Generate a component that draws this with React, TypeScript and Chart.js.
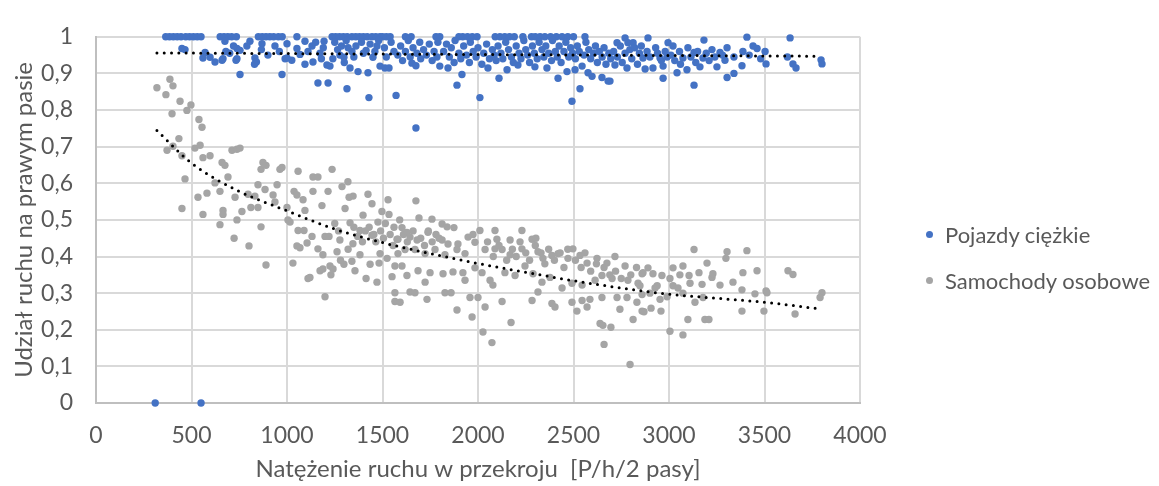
import { useEffect, useRef } from "react";
import { Chart, registerables } from "chart.js";

Chart.register(...registerables);

const xTicks = [0, 500, 1000, 1500, 2000, 2500, 3000, 3500, 4000];
const yTicks = [0, 0.1, 0.2, 0.3, 0.4, 0.5, 0.6, 0.7, 0.8, 0.9, 1];

const heavyLabel = "Pojazdy ciężkie";
const carsLabel = "Samochody osobowe";
const xTitle = "Natężenie ruchu w przekroju  [P/h/2 pasy]";
const yTitle = "Udział ruchu na prawym pasie";

// Pojazdy ciężkie [x, y]
const heavy: [number, number][] = [
  [310, 0], [550, 0],
  [754, 0.897], [974, 0.897], [1162, 0.874], [1215, 0.874], [1314, 0.858], [1429, 0.834],
  [1571, 0.84], [1675, 0.751], [1890, 0.868], [2010, 0.834], [1916, 0.897], [2110, 0.887],
  [2419, 0.887], [2492, 0.824], [2534, 0.858], [2969, 0.887], [3131, 0.868], [3304, 0.889],
  [3340, 0.9], [2691, 0.879], [2681, 0.879], [2649, 0.889],
  [365, 1], [385, 1], [405, 1], [425, 1], [445, 1], [470, 1], [490, 1], [510, 1], [530, 1], [550, 1],
  [650, 1], [670, 1], [690, 1], [710, 1], [735, 1],
  [850, 1], [870, 1], [890, 1], [910, 1], [930, 1], [955, 1], [975, 1], [1052, 1],
  [1236, 1], [1255, 1], [1275, 1], [1295, 1], [1315, 1], [1340, 1], [1360, 1], [1380, 1], [1400, 1],
  [1420, 1], [1445, 1], [1465, 1], [1487, 1], [1500, 1], [1520, 1], [1540, 1], [1620, 1], [1650, 1],
  [1780, 1], [1800, 1], [1900, 1], [1920, 1], [1945, 1], [1970, 1], [1995, 1],
  [2090, 1], [2115, 1], [2140, 1], [2165, 1], [2190, 1], [2235, 1], [2280, 1],
  [2300, 1], [2325, 1], [2350, 1], [2380, 1], [2410, 1], [2440, 1], [2470, 1], [2500, 1], [2560, 1],
  [2770, 0.997], [2890, 0.997], [3183, 0.991], [3408, 0.999], [3634, 0.997],
  [675, 0.988], [806, 0.988], [1094, 0.988], [1194, 0.988], [2728, 0.984], [2785, 0.984], [2812, 0.984], [2995, 0.984],
  [450, 0.968], [466, 0.965], [571, 0.957], [560, 0.942], [597, 0.944], [623, 0.931],
  [660, 0.936], [665, 0.94], [738, 0.968], [754, 0.963], [738, 0.94], [733, 0.936], [790, 0.975], [700, 0.955], [720, 0.975], [680, 0.96],
  [832, 0.942], [840, 0.931], [830, 0.925], [869, 0.981], [866, 0.965], [937, 0.975], [900, 0.95], [960, 0.96], [990, 0.94],
  [1000, 0.981], [1000, 0.942], [1025, 0.936], [1052, 0.968], [1068, 0.952], [1094, 0.925], [1131, 0.975], [1136, 0.931],
  [1173, 0.955], [1110, 0.96], [1150, 0.985], [1180, 0.94], [1190, 0.97],
  [1209, 0.923], [1225, 0.92], [1277, 0.95], [1298, 0.944], [1330, 0.915], [1372, 0.905], [1424, 0.902], [1361, 0.975],
  [1340, 0.96], [1414, 0.963], [1450, 0.944], [1471, 0.975], [1487, 0.92], [1250, 0.985], [1265, 0.965], [1285, 0.975],
  [1310, 0.99], [1320, 0.97], [1350, 0.945], [1390, 0.985], [1400, 0.955], [1435, 0.98], [1460, 0.96], [1480, 0.99],
  [1240, 0.94], [1300, 0.93],
  [1513, 0.915], [1534, 0.915], [1654, 0.928], [1675, 0.921], [1510, 0.97], [1520, 0.945], [1545, 0.985], [1560, 0.96],
  [1580, 0.95], [1595, 0.975], [1605, 0.935], [1620, 0.96], [1635, 0.99], [1645, 0.945], [1660, 0.97], [1680, 0.955],
  [1695, 0.985], [1700, 0.94], [1715, 0.965], [1730, 0.95], [1745, 0.98], [1760, 0.935], [1770, 0.96], [1785, 0.945],
  [1790, 0.985], [1800, 0.92],
  [1843, 0.915], [1820, 0.96], [1835, 0.98], [1850, 0.945], [1860, 0.97], [1875, 0.93], [1880, 0.99], [1900, 0.955],
  [1910, 0.94], [1925, 0.975], [1940, 0.95], [1955, 0.93], [1960, 0.985], [1975, 0.96], [1990, 0.945], [2000, 0.97],
  [2020, 0.925], [2030, 0.955], [2045, 0.98], [2052, 0.915], [2060, 0.94], [2075, 0.965], [2085, 0.95], [2095, 0.935],
  [2152, 0.91], [2209, 0.923], [2298, 0.918], [2361, 0.915], [2105, 0.975], [2120, 0.955], [2130, 0.94], [2145, 0.985],
  [2160, 0.965], [2175, 0.945], [2185, 0.93], [2200, 0.975], [2215, 0.955], [2225, 0.94], [2240, 0.99], [2250, 0.965],
  [2260, 0.95], [2270, 0.93], [2285, 0.975], [2295, 0.955], [2310, 0.94], [2320, 0.985], [2335, 0.965], [2345, 0.945],
  [2355, 0.975], [2370, 0.955], [2385, 0.935], [2390, 0.99],
  [2466, 0.905], [2508, 0.91], [2576, 0.902], [2597, 0.892], [2405, 0.96], [2415, 0.945], [2425, 0.975], [2435, 0.93],
  [2450, 0.96], [2460, 0.985], [2475, 0.945], [2485, 0.97], [2495, 0.955], [2510, 0.94], [2520, 0.975], [2530, 0.96],
  [2545, 0.92], [2555, 0.95], [2565, 0.985], [2580, 0.965], [2590, 0.94], [2605, 0.955], [2615, 0.975], [2625, 0.93],
  [2635, 0.96], [2650, 0.945], [2660, 0.97], [2670, 0.925], [2685, 0.955], [2695, 0.94],
  [2717, 0.923], [2780, 0.915], [2864, 0.942], [2875, 0.912], [2916, 0.915], [2953, 0.942], [2969, 0.92], [2710, 0.96],
  [2730, 0.945], [2745, 0.975], [2755, 0.93], [2770, 0.955], [2795, 0.965], [2805, 0.94], [2820, 0.97], [2835, 0.925],
  [2845, 0.955], [2855, 0.975], [2885, 0.96], [2900, 0.945], [2930, 0.97], [2940, 0.955], [2960, 0.935], [2980, 0.96], [2990, 0.945],
  [3021, 0.975], [3042, 0.902], [3073, 0.942], [3094, 0.91], [3099, 0.97], [3131, 0.957], [3162, 0.918], [3178, 0.942],
  [3225, 0.965], [3251, 0.918], [3267, 0.957], [3293, 0.936], [3010, 0.95], [3030, 0.935], [3055, 0.96], [3060, 0.925],
  [3115, 0.945], [3140, 0.93], [3150, 0.96], [3195, 0.955], [3210, 0.935], [3240, 0.945], [3280, 0.95], [3304, 0.97],
  [3382, 0.921], [3387, 0.96], [3461, 0.968], [3503, 0.96], [3508, 0.926], [3649, 0.926], [3665, 0.915], [3796, 0.937],
  [3801, 0.926], [3340, 0.945], [3420, 0.95], [3440, 0.975], [3480, 0.94], [3620, 0.945],
];

// Samochody osobowe [x, y]
const cars: [number, number][] = [
  [319, 0.861], [387, 0.884], [403, 0.866], [366, 0.842], [440, 0.824], [497, 0.814], [476, 0.799], [398, 0.79],
  [539, 0.774], [555, 0.753], [434, 0.722], [372, 0.69], [403, 0.701], [450, 0.675], [466, 0.612], [450, 0.531],
  [518, 0.696], [545, 0.704], [560, 0.67], [597, 0.675], [534, 0.562], [581, 0.573], [560, 0.515], [660, 0.657],
  [675, 0.649], [649, 0.578], [623, 0.601], [691, 0.617], [712, 0.69], [738, 0.693], [754, 0.696], [665, 0.526],
  [665, 0.515], [649, 0.487], [738, 0.5], [723, 0.45], [764, 0.523], [728, 0.562], [796, 0.57], [801, 0.429],
  [864, 0.638], [890, 0.649], [874, 0.657], [848, 0.596], [885, 0.583], [832, 0.565], [848, 0.534], [811, 0.534],
  [864, 0.481], [927, 0.568], [937, 0.549], [948, 0.596], [963, 0.638], [974, 0.643], [890, 0.377], [1000, 0.534],
  [1005, 0.5], [1016, 0.494], [1058, 0.633], [1037, 0.578], [1052, 0.568], [1084, 0.555], [1094, 0.526], [1058, 0.471],
  [1089, 0.471], [1052, 0.429], [1068, 0.424], [1031, 0.382], [1105, 0.437], [1131, 0.455], [1110, 0.34], [1120, 0.343],
  [1136, 0.617], [1162, 0.617], [1136, 0.578], [1183, 0.539], [1215, 0.578], [1236, 0.638], [1199, 0.455], [1220, 0.455],
  [1162, 0.421], [1188, 0.405], [1173, 0.361], [1188, 0.366], [1199, 0.29], [1225, 0.374], [1241, 0.366], [1262, 0.413],
  [1277, 0.445], [1288, 0.591], [1319, 0.604], [1304, 0.531], [1330, 0.492], [1346, 0.565], [1325, 0.562], [1298, 0.379],
  [1340, 0.387], [1356, 0.361], [1382, 0.405], [1398, 0.513], [1382, 0.471], [1424, 0.57], [1445, 0.544], [1476, 0.494],
  [1497, 0.523], [1529, 0.555], [1534, 0.515], [1445, 0.458], [1435, 0.379], [1414, 0.34], [1471, 0.33], [1482, 0.382],
  [1487, 0.408], [1524, 0.395], [1550, 0.345], [1565, 0.277], [1565, 0.301], [1576, 0.447],
  [1250, 0.49], [1270, 0.47], [1350, 0.48], [1370, 0.455], [1395, 0.44], [1320, 0.42], [1345, 0.435], [1280, 0.39], [1230, 0.35],
  [1410, 0.47], [1430, 0.48], [1455, 0.46], [1465, 0.44], [1490, 0.47], [1505, 0.45], [1515, 0.49], [1540, 0.46],
  [1555, 0.43], [1560, 0.48], [1590, 0.5], [1610, 0.46], [1630, 0.44], [1660, 0.47], [1700, 0.45], [1720, 0.43],
  [1740, 0.47], [1760, 0.44], [1780, 0.46],
  [1675, 0.552], [1691, 0.505], [1759, 0.502], [1738, 0.466], [1812, 0.489], [1838, 0.481], [1874, 0.479], [1602, 0.479],
  [1628, 0.466], [1644, 0.453], [1581, 0.447], [1681, 0.445], [1812, 0.445], [1796, 0.45], [1843, 0.434], [1895, 0.434],
  [1948, 0.453], [1974, 0.46], [2010, 0.471], [1984, 0.439], [2089, 0.471], [2099, 0.447], [2168, 0.445], [2230, 0.471],
  [2283, 0.447], [2303, 0.45], [1581, 0.408], [1618, 0.419], [1670, 0.419], [1723, 0.408], [1775, 0.419], [1827, 0.405],
  [1890, 0.419], [1932, 0.408], [2037, 0.419], [2089, 0.421], [2126, 0.419], [2168, 0.405], [2230, 0.421], [2314, 0.413],
  [2340, 0.395], [2387, 0.403], [2419, 0.408], [2471, 0.395], [2497, 0.421], [2534, 0.403], [2571, 0.382], [2623, 0.395],
  [2675, 0.382], [2717, 0.4], [2770, 0.374], [2859, 0.353], [1565, 0.374], [1602, 0.374], [1628, 0.348], [1686, 0.361],
  [1723, 0.33], [1749, 0.356], [1817, 0.353], [1869, 0.358], [1921, 0.356], [1932, 0.335], [1984, 0.369], [2021, 0.356],
  [2063, 0.335], [2078, 0.322], [2141, 0.356], [2194, 0.348], [2246, 0.374], [2288, 0.353], [2335, 0.33], [2377, 0.343],
  [2440, 0.314], [2492, 0.327], [2545, 0.322], [2613, 0.335], [2649, 0.348], [2702, 0.34], [2785, 0.335], [2838, 0.327],
  [1644, 0.303], [1670, 0.301], [1592, 0.275], [1733, 0.283], [1827, 0.301], [1859, 0.301], [1890, 0.254], [1969, 0.235],
  [1958, 0.288], [2000, 0.288], [2037, 0.262], [2026, 0.194], [2073, 0.165], [2126, 0.277], [2173, 0.22], [2283, 0.28],
  [2314, 0.303], [2387, 0.272], [2403, 0.262], [2492, 0.275], [2518, 0.251], [2545, 0.28], [2571, 0.262], [2586, 0.283],
  [2639, 0.217], [2654, 0.212], [2660, 0.16], [2696, 0.207], [2649, 0.288], [2728, 0.288], [2743, 0.256], [2780, 0.288],
  [2812, 0.228], [2832, 0.275], [2796, 0.105], [2859, 0.251],
  [2050, 0.44], [2080, 0.4], [2110, 0.43], [2150, 0.39], [2180, 0.42], [2200, 0.4], [2220, 0.44], [2250, 0.41],
  [2270, 0.39], [2300, 0.43], [2330, 0.41], [2350, 0.38], [2370, 0.42], [2400, 0.39], [2430, 0.41], [2450, 0.37],
  [2470, 0.42], [2510, 0.39], [2540, 0.37], [2560, 0.41], [2590, 0.36], [2620, 0.38], [2660, 0.37], [2690, 0.35],
  [2720, 0.36], [2750, 0.34], [2800, 0.35], [2830, 0.37],
  [3131, 0.419], [3304, 0.413], [3298, 0.395], [3408, 0.416], [3199, 0.382], [3157, 0.356], [3105, 0.348], [3073, 0.374],
  [3021, 0.369], [3005, 0.34], [2916, 0.353], [2890, 0.369], [2864, 0.356], [2963, 0.348], [3110, 0.327], [3173, 0.324],
  [3225, 0.343], [3230, 0.353], [3267, 0.322], [3335, 0.33], [3387, 0.356], [3382, 0.309], [3461, 0.361], [3450, 0.298],
  [3508, 0.306], [3513, 0.301], [3623, 0.361], [3649, 0.351], [3801, 0.301], [3791, 0.288], [3660, 0.243], [3382, 0.251],
  [3497, 0.251], [3188, 0.228], [3209, 0.228], [3099, 0.228], [3073, 0.186], [3005, 0.196], [2869, 0.249], [2906, 0.259],
  [2958, 0.251], [2953, 0.283], [2990, 0.29], [2859, 0.296], [2927, 0.314], [3047, 0.314], [3073, 0.3], [3136, 0.275],
  [3178, 0.288], [3021, 0.32], [2848, 0.32], [2900, 0.3], [2938, 0.32], [3057, 0.35],
];

// Linie trendu
const heavyTrendX = [319, 3790];
const heavyTrendY = [0.956, 0.947];
const carsTrendX = [319, 500, 750, 1000, 1250, 1500, 1750, 2000, 2250, 2500, 2750, 3000, 3250, 3500, 3775];
const carsTrendY = [0.744, 0.655, 0.578, 0.525, 0.475, 0.438, 0.408, 0.381, 0.357, 0.334, 0.314, 0.297, 0.286, 0.275, 0.258];

const FONT = "Lato, 'Noto Sans', sans-serif";
const TEXT = "#595959";

export default function App() {
  const ref = useRef<HTMLCanvasElement>(null);

  useEffect(() => {
    if (!ref.current) return;
    const chart = new Chart(ref.current, {
      type: "scatter",
      data: {
        datasets: [
          {
            label: heavyLabel,
            data: heavy.map(([x, y]) => ({ x, y })),
            backgroundColor: "#4472C4",
            borderColor: "#4472C4",
            pointRadius: 3.7,
            pointBorderWidth: 0,
            order: 2,
          },
          {
            label: carsLabel,
            data: cars.map(([x, y]) => ({ x, y })),
            backgroundColor: "#A5A5A5",
            borderColor: "#A5A5A5",
            pointRadius: 3.7,
            pointBorderWidth: 0,
            order: 3,
          },
          {
            label: "trend1",
            data: heavyTrendX.map((x, i) => ({ x, y: heavyTrendY[i] })),
            showLine: true,
            pointRadius: 0,
            borderColor: "#000000",
            borderWidth: 3,
            borderDash: [0, 7.3],
            borderCapStyle: "round",
            order: 0,
          } as any,
          {
            label: "trend2",
            data: carsTrendX.map((x, i) => ({ x, y: carsTrendY[i] })),
            showLine: true,
            pointRadius: 0,
            borderColor: "#000000",
            borderWidth: 3,
            borderDash: [0, 7.3],
            borderCapStyle: "round",
            cubicInterpolationMode: "monotone",
            order: 1,
          } as any,
        ],
      },
      options: {
        responsive: false,
        animation: false,
        devicePixelRatio: 1,
        layout: { padding: { left: 0, right: 299, top: 21, bottom: 0 } },
        plugins: { legend: { display: false }, tooltip: { enabled: false } },
        datasets: { scatter: { clip: false } } as any,
        scales: {
          x: {
            type: "linear",
            min: 0,
            max: 4000,
            afterBuildTicks: (s: any) => {
              s.ticks = xTicks.map((v) => ({ value: v }));
            },
            afterFit: (s: any) => {
              s.height = 83;
            },
            ticks: {
              callback: (v: any) => String(v),
              color: TEXT,
              font: { family: FONT, size: 23 },
              padding: 19,
              maxRotation: 0,
              autoSkip: false,
            },
            grid: { color: "#D9D9D9", lineWidth: 2, drawTicks: false },
            border: { color: "#BFBFBF", width: 2 },
            title: {
              display: true,
              text: xTitle,
              color: TEXT,
              font: { family: FONT, size: 24 },
              padding: { top: 0, bottom: 2 },
            },
          },
          y: {
            type: "linear",
            min: 0,
            max: 1,
            afterBuildTicks: (s: any) => {
              s.ticks = yTicks.map((v) => ({ value: v }));
            },
            afterFit: (s: any) => {
              s.width = 96;
            },
            ticks: {
              callback: (v: any) => {
                const r = Math.round(Number(v) * 10) / 10;
                return Number.isInteger(r) ? String(r) : r.toFixed(1).replace(".", ",");
              },
              color: TEXT,
              font: { family: FONT, size: 23 },
              padding: 23,
              autoSkip: false,
            },
            grid: { color: "#D9D9D9", lineWidth: 2, drawTicks: false },
            border: { color: "#BFBFBF", width: 2 },
            title: {
              display: true,
              text: yTitle,
              color: TEXT,
              font: { family: FONT, size: 24 },
              padding: { top: 10, bottom: 0 },
            },
          },
        },
      },
    });
    return () => chart.destroy();
  }, []);

  const legendItems = [
    { label: heavyLabel, color: "#4472C4", y: 234 },
    { label: carsLabel, color: "#A5A5A5", y: 280 },
  ];

  return (
    <div style={{ position: "absolute", left: 0, top: 0, width: 1159, height: 486, background: "#ffffff", overflow: "hidden" }}>
      <canvas ref={ref} width={1159} height={486} style={{ display: "block", width: 1159, height: 486 }} />
      {legendItems.map((it) => (
        <div key={it.label} style={{ position: "absolute", left: 926, top: it.y - 15, height: 30, display: "flex", alignItems: "center" }}>
          <span style={{ display: "inline-block", width: 7, height: 7, borderRadius: "50%", background: it.color, marginRight: 12 }} />
          <span style={{ fontFamily: FONT, fontSize: 22, color: TEXT, whiteSpace: "pre" }}>{it.label}</span>
        </div>
      ))}
    </div>
  );
}
